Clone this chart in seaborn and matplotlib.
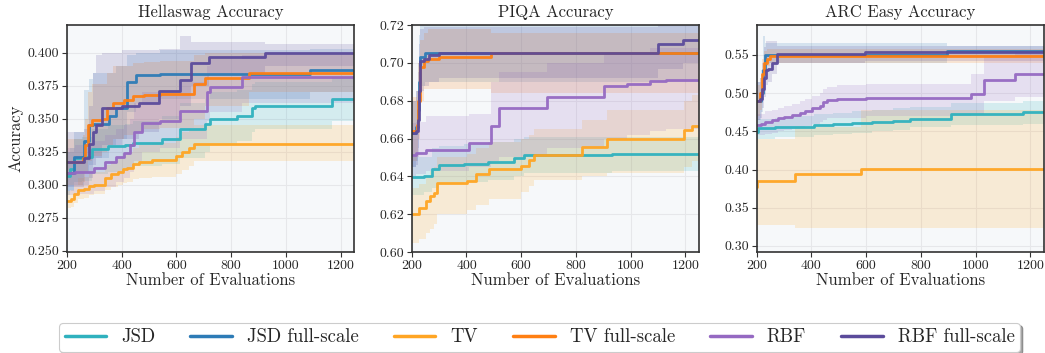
import numpy as np
import pandas as pd
import matplotlib
matplotlib.use("Agg")
import matplotlib.pyplot as plt
import seaborn as sns

# ---------------- data ----------------
X_END = 1250
methods = ["JSD", "JSD full-scale", "TV", "TV full-scale", "RBF", "RBF full-scale"]
colors = ["#2fb1be", "#2d7bb6", "#ffa523", "#ff7f12", "#9569c2", "#5b4b9b"]
panel_titles = ["Hellaswag Accuracy", "PIQA Accuracy", "ARC Easy Accuracy"]
ylims = [(0.249, 0.421), (0.60, 0.72), (0.292, 0.589)]
yticks = [[0.250, 0.275, 0.300, 0.325, 0.350, 0.375, 0.400],
          [0.60, 0.62, 0.64, 0.66, 0.68, 0.70, 0.72],
          [0.30, 0.35, 0.40, 0.45, 0.50, 0.55]]
ytick_fmt = ["{:.3f}", "{:.2f}", "{:.2f}"]
xticks = [200, 400, 600, 800, 1000, 1200]

# ---- Hellaswag ----
hs_jsd_x = [200, 210, 226, 255, 292, 350, 414, 440, 548, 615, 706, 724, 822, 875, 889, 1168]
hs_jsd_y = [.307, .312, .320, .321, .327, .329, .330, .332, .335, .342, .346, .350, .352, .358, .360, .365]
hs_jsd_lo = [.292, .296, .302, .303, .308, .310, .312, .314, .316, .320, .325, .330, .333, .340, .342, .348]
hs_jsd_hi = [.325, .328, .335, .336, .342, .345, .346, .348, .352, .362, .365, .370, .372, .376, .378, .382]

hs_jsdf_x = [200, 225, 262, 280, 296, 355, 378, 420, 451, 540, 1090]
hs_jsdf_y = [.309, .321, .333, .345, .346, .352, .358, .378, .383, .384, .387]
hs_jsdf_lo = [.295, .300, .310, .315, .320, .330, .335, .355, .362, .365, .370]
hs_jsdf_hi = [.325, .340, .372, .380, .385, .385, .390, .398, .400, .402, .403]

hs_tv_x = [200, 215, 226, 240, 262, 280, 300, 341, 360, 385, 405, 420, 440, 465, 511, 600, 620, 645, 665]
hs_tv_y = [.288, .289, .293, .296, .297, .299, .300, .305, .308, .310, .312, .313, .316, .317, .319, .322, .325, .328, .331]
hs_tv_lo = [.282, .283, .286, .289, .290, .292, .293, .296, .298, .300, .301, .302, .304, .305, .306, .308, .311, .314, .318]
hs_tv_hi = [.295, .296, .300, .305, .306, .308, .310, .315, .318, .320, .323, .325, .328, .330, .332, .336, .340, .342, .345]

hs_tvf_x = [200, 258, 268, 278, 290, 330, 345, 370, 410, 440, 480, 540, 665, 706, 865]
hs_tvf_y = [.317, .320, .330, .345, .349, .350, .358, .362, .364, .367, .368, .369, .376, .381, .3845]
hs_tvf_lo = [.300, .302, .310, .318, .322, .325, .330, .335, .338, .340, .342, .343, .350, .360, .370]
hs_tvf_hi = [.335, .338, .350, .370, .376, .376, .385, .390, .390, .392, .393, .394, .398, .400, .400]

hs_rbf_x = [200, 230, 300, 340, 378, 410, 432, 445, 475, 540, 615, 712, 724, 840]
hs_rbf_y = [.309, .310, .313, .317, .321, .324, .330, .340, .347, .348, .356, .370, .374, .3814]
hs_rbf_lo = [.292, .293, .295, .298, .302, .305, .310, .318, .325, .328, .335, .348, .355, .362]
hs_rbf_hi = [.328, .330, .333, .338, .342, .345, .350, .362, .370, .372, .378, .390, .395, .398]

hs_rbff_x = [200, 262, 280, 296, 305, 329, 402, 463, 536, 615, 655, 718, 925]
hs_rbff_y = [.317, .320, .331, .340, .345, .358, .360, .362, .371, .379, .392, .397, .3995]
hs_rbff_lo = [.298, .300, .305, .315, .320, .330, .335, .340, .350, .360, .375, .383, .390]
hs_rbff_hi = [.340, .342, .360, .385, .398, .400, .402, .402, .403, .413, .408, .408, .407]

# ---- PIQA ----
pq_jsd_x = [200, 245, 275, 300, 391, 480, 573, 610, 930]
pq_jsd_y = [.6395, .640, .6441, .6459, .6468, .6475, .6498, .6512, .652]
pq_jsd_lo = [.630, .632, .634, .636, .637, .638, .640, .642, .643]
pq_jsd_hi = [.650, .650, .655, .656, .657, .658, .660, .661, .661]

pq_jsdf_x = [200, 215, 222, 226, 232, 250]
pq_jsdf_y = [.663, .666, .675, .690, .703, .705]
pq_jsdf_lo = [.645, .648, .655, .670, .688, .690]
pq_jsdf_hi = [.680, .685, .700, .715, .720, .720]

pq_tv_x = [200, 227, 251, 265, 281, 293, 403, 434, 482, 598, 628, 646, 823, 914, 1194, 1224]
pq_tv_y = [.620, .6235, .6268, .6295, .6312, .6367, .6376, .6411, .6438, .6454, .6485, .6512, .6553, .660, .6644, .6669]
pq_tv_lo = [.605, .607, .610, .612, .615, .620, .622, .625, .628, .632, .635, .638, .640, .642, .645, .648]
pq_tv_hi = [.634, .636, .640, .643, .645, .650, .652, .655, .658, .660, .662, .665, .670, .675, .680, .683]

pq_tvf_x = [200, 218, 224, 232, 245, 260, 300, 490]
pq_tvf_y = [.664, .667, .680, .698, .701, .702, .703, .705]
pq_tvf_lo = [.648, .650, .660, .680, .686, .686, .686, .684]
pq_tvf_hi = [.682, .685, .700, .712, .716, .718, .718, .716]

pq_rbf_x = [200, 215, 251, 409, 488, 519, 695, 902, 987, 1072, 1130]
pq_rbf_y = [.6514, .6525, .6542, .6574, .6665, .6759, .682, .6877, .6891, .6905, .691]
pq_rbf_lo = [.640, .641, .643, .645, .648, .650, .655, .660, .662, .664, .665]
pq_rbf_hi = [.668, .669, .672, .673, .690, .695, .700, .705, .705, .708, .708]

pq_rbff_x = [200, 215, 222, 226, 232, 245, 262, 300, 1098, 1190]
pq_rbff_y = [.663, .664, .670, .685, .701, .702, .704, .705, .710, .712]
pq_rbff_lo = [.645, .646, .650, .665, .685, .688, .690, .692, .697, .700]
pq_rbff_hi = [.680, .685, .695, .710, .718, .719, .719, .719, .722, .722]

# ---- ARC Easy ----
ar_jsd_x = [200, 206, 267, 330, 410, 480, 550, 620, 700, 760, 912, 1173]
ar_jsd_y = [.4485, .454, .455, .456, .4583, .4598, .4613, .4626, .464, .4665, .4723, .4749]
ar_jsd_lo = [.435, .440, .442, .443, .445, .447, .448, .450, .452, .455, .458, .460]
ar_jsd_hi = [.460, .466, .468, .470, .472, .474, .476, .478, .480, .482, .487, .490]

ar_jsdf_x = [200, 215, 222, 231, 895]
ar_jsdf_y = [.489, .500, .530, .550, .5557]
ar_jsdf_lo = [.465, .475, .500, .540, .548]
ar_jsdf_hi = [.515, .530, .575, .565, .562]

ar_tv_x = [200, 203, 340, 583]
ar_tv_y = [.377, .3845, .3945, .4013]
ar_tv_lo = [.328, .328, .323, .323]
ar_tv_hi = [.435, .440, .455, .478]

ar_tvf_x = [200, 212, 220, 228, 238, 250]
ar_tvf_y = [.490, .500, .525, .540, .545, .5485]
ar_tvf_lo = [.470, .478, .500, .520, .535, .540]
ar_tvf_hi = [.510, .520, .545, .555, .558, .558]

ar_rbf_x = [200, 215, 231, 255, 279, 300, 328, 358, 377, 401, 432, 444, 456, 493, 600, 984, 1032, 1143]
ar_rbf_y = [.4585, .459, .4626, .4645, .467, .469, .4714, .474, .4766, .4801, .4832, .4888, .491, .4925, .4935, .4989, .5175, .5253]
ar_rbf_lo = [.445, .445, .447, .448, .450, .452, .453, .455, .457, .460, .462, .465, .467, .468, .470, .472, .490, .495]
ar_rbf_hi = [.472, .473, .476, .478, .480, .483, .486, .490, .492, .496, .500, .505, .508, .510, .512, .525, .548, .555]

ar_rbff_x = [200, 212, 220, 228, 236, 243, 255, 273, 596]
ar_rbff_y = [.489, .492, .505, .520, .530, .532, .539, .551, .5535]
ar_rbff_lo = [.465, .468, .480, .495, .510, .515, .525, .540, .542]
ar_rbff_hi = [.515, .520, .540, .560, .568, .568, .568, .562, .562]

panels = [
    [(hs_jsd_x, hs_jsd_y, hs_jsd_lo, hs_jsd_hi), (hs_jsdf_x, hs_jsdf_y, hs_jsdf_lo, hs_jsdf_hi),
     (hs_tv_x, hs_tv_y, hs_tv_lo, hs_tv_hi), (hs_tvf_x, hs_tvf_y, hs_tvf_lo, hs_tvf_hi),
     (hs_rbf_x, hs_rbf_y, hs_rbf_lo, hs_rbf_hi), (hs_rbff_x, hs_rbff_y, hs_rbff_lo, hs_rbff_hi)],
    [(pq_jsd_x, pq_jsd_y, pq_jsd_lo, pq_jsd_hi), (pq_jsdf_x, pq_jsdf_y, pq_jsdf_lo, pq_jsdf_hi),
     (pq_tv_x, pq_tv_y, pq_tv_lo, pq_tv_hi), (pq_tvf_x, pq_tvf_y, pq_tvf_lo, pq_tvf_hi),
     (pq_rbf_x, pq_rbf_y, pq_rbf_lo, pq_rbf_hi), (pq_rbff_x, pq_rbff_y, pq_rbff_lo, pq_rbff_hi)],
    [(ar_jsd_x, ar_jsd_y, ar_jsd_lo, ar_jsd_hi), (ar_jsdf_x, ar_jsdf_y, ar_jsdf_lo, ar_jsdf_hi),
     (ar_tv_x, ar_tv_y, ar_tv_lo, ar_tv_hi), (ar_tvf_x, ar_tvf_y, ar_tvf_lo, ar_tvf_hi),
     (ar_rbf_x, ar_rbf_y, ar_rbf_lo, ar_rbf_hi), (ar_rbff_x, ar_rbff_y, ar_rbff_lo, ar_rbff_hi)],
]

# ---------------- style ----------------
sns.set_theme(style="whitegrid")
plt.rcParams["font.family"] = ["cmr10", "DejaVu Serif"]
plt.rcParams["mathtext.fontset"] = "cm"
plt.rcParams["axes.formatter.use_mathtext"] = True
plt.rcParams["axes.unicode_minus"] = False

fig, axes = plt.subplots(1, 3, figsize=(10.45, 3.53), dpi=100)
fig.subplots_adjust(left=0.064, right=0.999, top=0.929, bottom=0.286, wspace=0.2)

pal = dict(zip(methods, colors))

for pi, ax in enumerate(axes):
    rows = []
    for m, (x, y, lo, hi) in zip(methods, panels[pi]):
        xs = list(x) + [X_END]
        ys = list(y) + [y[-1]]
        los = list(lo) + [lo[-1]]
        his = list(hi) + [hi[-1]]
        ax.fill_between(xs, los, his, step="post", color=pal[m], alpha=0.17, linewidth=0)
        for a, b in zip(xs, ys):
            rows.append({"evals": a, "acc": b, "method": m})
    df = pd.DataFrame(rows)
    sns.lineplot(data=df, x="evals", y="acc", hue="method", hue_order=methods, palette=pal,
                 drawstyle="steps-post", estimator=None, sort=False, errorbar=None,
                 linewidth=2.0, alpha=0.95, ax=ax, legend=False)
    ax.set_facecolor("#f6f8fa")
    ax.grid(True, color="#e6e7ea", linewidth=0.8)
    ax.set_xlim(200, X_END)
    ax.set_ylim(*ylims[pi])
    ax.set_xticks(xticks)
    ax.set_xticklabels([str(t) for t in xticks])
    ax.set_yticks(yticks[pi])
    ax.set_yticklabels([ytick_fmt[pi].format(t) for t in yticks[pi]])
    ax.tick_params(axis="both", which="major", labelsize=10, length=3.5, width=0.8,
                   color="#333333", direction="out", bottom=True, left=True, pad=2)
    for s in ax.spines.values():
        s.set_visible(True)
        s.set_color("#333333")
        s.set_linewidth(1.2)
    ax.set_title(panel_titles[pi], fontsize=12, pad=6)
    ax.set_xlabel("Number of Evaluations", fontsize=12, labelpad=1)
    ax.set_ylabel("Accuracy" if pi == 0 else "", fontsize=12, labelpad=3)

handles = [plt.Line2D([], [], color=c, linewidth=2.5) for c in colors]
leg = fig.legend(handles, methods, loc="lower left", ncol=6, mode="expand",
                 bbox_to_anchor=(59 / 1045, 1 / 353, (1020 - 59) / 1045, 30 / 353),
                 fontsize=13.5, frameon=True, shadow=True, fancybox=True,
                 handlelength=2.2, handletextpad=0.8, borderaxespad=0.0, borderpad=0.3)
leg.get_frame().set_edgecolor("#cccccc")
leg.get_frame().set_linewidth(0.8)

fig.savefig("out.png", dpi=100)
